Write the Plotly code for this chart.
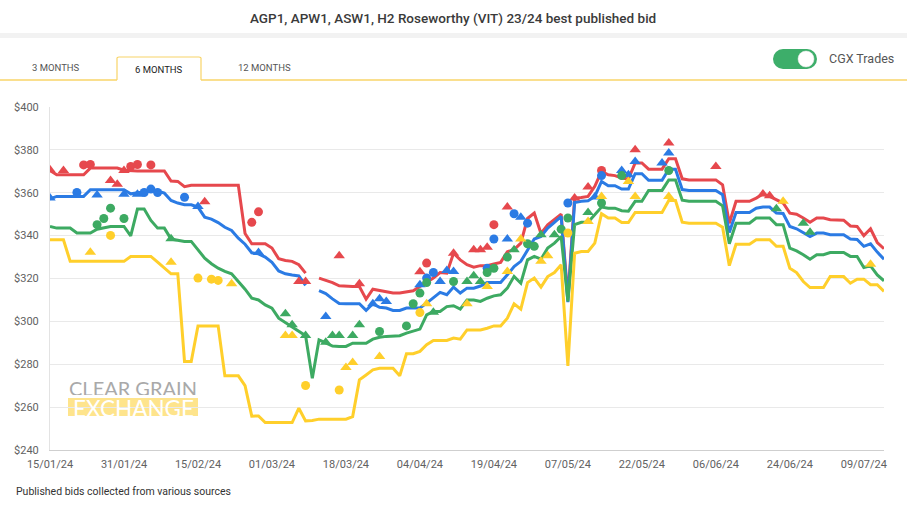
import pandas as pd
import plotly.graph_objects as go

# ---------------- data ----------------
HOLIDAYS = ["2024-01-26", "2024-03-29", "2024-04-01", "2024-04-25", "2024-06-10"]
trading_days = pd.bdate_range("2024-01-15", "2024-07-12", freq="C", holidays=HOLIDAYS)
DATES = [d.strftime("%d/%m/%y") for d in trading_days]
TICK_DATES = DATES[::11]
Y_TICKS = [240, 260, 280, 300, 320, 340, 360, 380, 400]

H2 = [370.4, 368.4, 368.4, 368.4, 368.4, 368.4, 371.5, 371.5, 371.5, 371.5,
      371.5, 370.5, 370.2, 370.2, 370.2, 370.2, 370.2, 370.2, 365.5, 365.3,
      362.8, 363.5, 363.5, 363.5, 363.5, 363.5, 363.5, 363.5, 363.5, 341.0,
      336.2, 336.2, 336.2, 334.2, 329.2, 328.4, 328.0, 326.4, 322.5, None,
      320.2, 319.2, 318.1, 316.6, 316.3, 316.3, 316.3, 310.4, 315.0, 314.4,
      314.1, 313.2, 313.2, 313.9, 314.3, 316.3, 318.1, 320.2, 322.8, 322.5,
      331.8, 328.7, 326.4, 325.3, 326.0, 326.0, 326.8, 327.5, 332.5, 333.5,
      336.5, 348.0, 350.5, 341.0, 345.0, 347.5, 350.0, 311.0, 357.5, 357.8,
      358.3, 363.0, 370.0, 368.4, 368.0, 366.9, 366.4, 373.9, 373.9, 371.0,
      371.0, 371.0, 375.9, 375.9, 366.5, 366.0, 366.0, 366.0, 366.0, 366.0,
      363.7, 345.8, 356.0, 356.0, 356.0, 357.5, 359.4, 358.3, 356.7, 355.2,
      350.5, 350.0, 348.2, 346.2, 348.2, 348.2, 347.4, 347.2, 347.2, 344.5,
      344.3, 340.0, 343.2, 336.8, 333.9]

APW1 = [357.2, 358.3, 358.3, 358.3, 358.3, 358.3, 361.4, 361.4, 361.4, 361.4,
        361.4, 361.4, 359.5, 360.0, 360.5, 360.8, 360.8, 359.8, 356.4, 355.2,
        354.4, 354.4, 353.3, 348.6, 347.7, 346.1, 343.9, 342.4, 338.8, 336.0,
        332.0, 331.5, 330.0, 327.5, 323.5, 322.2, 321.6, 321.2, 316.8, None,
        314.3, 313.0, 310.5, 308.3, 308.2, 308.2, 308.2, 305.1, 308.2, 306.6,
        306.2, 305.1, 305.1, 306.2, 306.2, 306.2, 308.5, 310.8, 313.5, 312.4,
        316.0, 313.2, 315.5, 315.5, 316.5, 318.1, 318.1, 318.1, 321.7, 325.6,
        328.0, 333.4, 338.4, 339.6, 343.5, 346.2, 349.0, 309.0, 355.5, 356.0,
        356.3, 358.3, 365.3, 363.3, 363.3, 361.7, 361.7, 368.9, 368.9, 365.8,
        365.8, 365.8, 371.0, 371.0, 361.5, 361.1, 361.1, 361.1, 361.1, 361.1,
        359.1, 341.5, 350.8, 350.8, 350.8, 352.8, 353.3, 353.3, 350.5, 350.3,
        344.3, 343.2, 341.5, 339.6, 341.2, 341.2, 340.4, 340.4, 340.4, 338.4,
        338.2, 335.0, 336.2, 332.3, 329.0]

ASW1 = [344.3, 343.5, 343.5, 343.5, 341.2, 341.2, 341.2, 343.0, 343.5, 344.3,
        344.3, 344.3, 339.9, 352.4, 352.4, 347.1, 343.5, 343.5, 338.4, 337.8,
        337.3, 337.3, 333.4, 329.5, 326.9, 324.8, 323.3, 322.2, 318.6, 315.0,
        310.8, 310.0, 307.7, 306.2, 301.5, 299.5, 297.6, 295.5, 293.3, 273.5,
        291.4, 290.0, 288.5, 288.3, 288.3, 289.8, 289.8, 289.8, 291.7, 292.6,
        293.0, 293.3, 293.3, 294.5, 295.3, 296.4, 303.0, 304.6, 304.6, 306.9,
        307.3, 305.7, 310.0, 310.0, 309.3, 310.8, 311.9, 312.4, 315.5, 321.0,
        317.8, 328.7, 330.3, 329.0, 334.2, 336.5, 339.6, 309.3, 345.1, 346.2,
        346.2, 349.7, 353.3, 352.8, 352.8, 351.6, 351.4, 356.0, 356.0, 361.1,
        361.1, 361.1, 366.0, 366.0, 356.5, 356.0, 356.0, 356.0, 356.0, 356.0,
        353.9, 336.2, 345.8, 345.8, 345.8, 348.2, 348.2, 348.2, 345.1, 345.1,
        334.2, 332.9, 331.1, 329.0, 331.1, 331.1, 332.1, 332.1, 332.1, 330.3,
        330.3, 325.1, 325.9, 321.7, 318.9]

AGP1 = [338.1, 338.1, 338.1, 328.0, 328.0, 328.0, 328.0, 328.0, 328.0, 328.0,
        328.0, 328.0, 330.3, 330.3, 330.3, 330.3, 327.6, 324.8, 322.2, 322.2,
        281.3, 281.3, 297.9, 297.9, 297.9, 297.9, 274.6, 274.6, 274.6, 270.0,
        255.8, 255.9, 252.8, 252.8, 252.8, 252.8, 252.8, 259.5, 253.6, 253.8,
        254.4, 254.4, 254.4, 254.4, 254.4, 255.6, 272.7, 275.0, 277.4, 278.1,
        278.1, 278.1, 274.6, 284.9, 284.9, 286.0, 289.1, 291.1, 291.1, 291.1,
        292.2, 291.7, 296.0, 296.0, 296.0, 296.8, 297.9, 297.9, 301.5, 308.2,
        305.7, 318.1, 320.2, 316.0, 320.9, 322.8, 326.4, 279.2, 331.8, 332.6,
        332.6, 336.5, 350.2, 348.2, 348.2, 346.1, 346.1, 350.8, 350.8, 350.8,
        350.8, 350.8, 356.4, 356.4, 346.3, 345.8, 345.8, 345.8, 345.8, 345.8,
        343.9, 326.0, 336.0, 336.0, 336.0, 338.1, 338.1, 338.1, 335.0, 335.0,
        324.8, 322.8, 318.6, 315.8, 315.8, 315.8, 320.9, 320.9, 320.9, 317.8,
        319.7, 319.7, 317.1, 317.1, 314.0]

# CGX trades: trading-day index and price
H2_CIRCLE_DAY = [5, 6, 12, 13, 15, 30, 31, 56, 66, 82]
H2_CIRCLE_VAL = [373.0, 373.2, 372.3, 373.2, 373.0, 346.2, 351.1, 327.2, 345.1, 370.4]
H2_TRI_DAY = [0, 2, 9, 10, 11, 23, 37, 38, 43, 46, 55, 60, 63, 64, 65, 68, 78, 80, 87, 92, 99, 106, 107]
H2_TRI_VAL = [370.7, 370.4, 365.7, 364.0, 370.4, 355.8, 318.6, 318.6, 330.6, 317.5, 323.1, 331.8,
              333.4, 333.4, 334.6, 353.3, 357.5, 362.7, 380.1, 383.2, 372.3, 359.4, 358.6]

APW1_CIRCLE_DAY = [4, 14, 15, 16, 20, 56, 57, 65, 66, 69, 71, 77, 82]
APW1_CIRCLE_VAL = [360.1, 360.1, 361.7, 360.1, 357.9, 320.2, 322.8, 324.8, 338.4, 350.2, 345.8, 355.2, 368.0]
APW1_TRI_DAY = [0, 7, 11, 13, 22, 31, 41, 48, 49, 50, 55, 58, 59, 60, 68, 70, 81, 85, 86, 87, 91, 92]
APW1_TRI_VAL = [357.5, 359.0, 359.3, 359.3, 353.6, 332.1, 302.3, 308.2, 310.5, 309.3, 317.1, 318.6,
                323.7, 323.3, 338.4, 348.6, 358.0, 370.4, 368.4, 374.6, 373.9, 378.5]

ASW1_CIRCLE_DAY = [7, 8, 9, 11, 49, 53, 54, 55, 56, 60, 65, 66, 68, 71, 72, 76, 77, 82, 85, 92]
ASW1_CIRCLE_VAL = [345.1, 348.0, 352.8, 348.0, 295.3, 297.9, 308.2, 313.2, 318.1, 318.6, 322.8, 324.8,
                   330.0, 336.2, 335.0, 343.0, 348.2, 355.2, 368.0, 370.4]
ASW1_TRI_DAY = [18, 35, 36, 38, 41, 42, 43, 45, 46, 57, 62, 63, 64, 69, 73, 75, 80, 108, 112, 113]
ASW1_TRI_VAL = [338.5, 303.5, 298.4, 293.4, 290.3, 293.4, 293.4, 293.4, 298.4, 304.3, 318.6, 321.3,
                318.6, 333.4, 340.4, 340.4, 350.8, 352.5, 345.8, 341.6]

AGP1_CIRCLE_DAY = [9, 22, 24, 25, 38, 43, 55, 77]
AGP1_CIRCLE_VAL = [340.1, 320.2, 319.7, 319.1, 270.1, 268.0, 304.1, 341.2]
AGP1_TRI_DAY = [6, 18, 27, 35, 36, 44, 45, 49, 56, 62, 65, 68, 70, 73, 74, 80, 82, 86, 87, 92, 109, 122]
AGP1_TRI_VAL = [332.3, 327.6, 317.5, 293.4, 293.4, 278.5, 280.8, 283.6, 308.2, 308.2, 316.3, 323.3,
                338.4, 328.0, 330.6, 346.6, 358.3, 365.3, 358.3, 358.3, 356.0, 326.7]

COLORS = {"H2": "#E6484D", "APW1": "#2B7BE4", "ASW1": "#3DAA62", "AGP1": "#FFCF2B"}

# ---------------- geometry helpers (pixel -> paper) ----------------
W, H = 907, 505
L, R, T, B = 50, 23, 107, 55
PW, PH = W - L - R, H - T - B


def px(x):
    return (x - L) / PW


def py(y):
    return (H - B - y) / PH


fig = go.Figure()

lines = [("H2", H2), ("APW1", APW1), ("ASW1", ASW1), ("AGP1", AGP1)]
for name, vals in lines:
    fig.add_trace(go.Scatter(x=DATES, y=vals, mode="lines", name=name,
                             line=dict(color=COLORS[name], width=3),
                             connectgaps=False, hoverinfo="skip"))

trades = [
    ("H2", H2_CIRCLE_DAY, H2_CIRCLE_VAL, H2_TRI_DAY, H2_TRI_VAL),
    ("APW1", APW1_CIRCLE_DAY, APW1_CIRCLE_VAL, APW1_TRI_DAY, APW1_TRI_VAL),
    ("ASW1", ASW1_CIRCLE_DAY, ASW1_CIRCLE_VAL, ASW1_TRI_DAY, ASW1_TRI_VAL),
    ("AGP1", AGP1_CIRCLE_DAY, AGP1_CIRCLE_VAL, AGP1_TRI_DAY, AGP1_TRI_VAL),
]
for name, cd, cv, td, tv in trades:
    fig.add_trace(go.Scatter(x=[DATES[i] for i in cd], y=cv, mode="markers",
                             marker=dict(symbol="circle", size=9, color=COLORS[name]),
                             hoverinfo="skip"))
    fig.add_trace(go.Scatter(x=[DATES[i] for i in td], y=tv, mode="markers",
                             marker=dict(symbol="triangle-up", size=10, color=COLORS[name]),
                             hoverinfo="skip"))

FONT = "Roboto, Arial, sans-serif"
YEL = "#F8D468"

shapes = [
    # light band under title
    dict(type="rect", xref="paper", yref="paper", x0=px(0), x1=px(W), y0=py(38), y1=py(33),
         fillcolor="#F2F2F2", line=dict(width=0), layer="below"),
    # yellow tab rule
    dict(type="line", xref="paper", yref="paper", x0=px(0), x1=px(117), y0=py(80), y1=py(80),
         line=dict(color=YEL, width=1.5)),
    dict(type="line", xref="paper", yref="paper", x0=px(201), x1=px(W), y0=py(80), y1=py(80),
         line=dict(color=YEL, width=1.5)),
    dict(type="path", xref="paper", yref="paper",
         path=f"M{px(117)},{py(80)} L{px(117)},{py(58)} Q{px(117)},{py(57)} {px(119)},{py(57)} "
              f"L{px(199)},{py(57)} Q{px(201)},{py(57)} {px(201)},{py(58)} L{px(201)},{py(80)}",
         line=dict(color=YEL, width=1.2)),
    # toggle
    dict(type="circle", xref="paper", yref="paper", x0=px(773), x1=px(793), y0=py(69), y1=py(49),
         fillcolor="#3DAE6A", line=dict(width=0)),
    dict(type="circle", xref="paper", yref="paper", x0=px(797), x1=px(817), y0=py(69), y1=py(49),
         fillcolor="#3DAE6A", line=dict(width=0)),
    dict(type="rect", xref="paper", yref="paper", x0=px(783), x1=px(807), y0=py(69), y1=py(49),
         fillcolor="#3DAE6A", line=dict(width=0)),
    dict(type="circle", xref="paper", yref="paper", x0=px(798), x1=px(814), y0=py(67), y1=py(51),
         fillcolor="#FFFFFF", line=dict(color="#E8E8E8", width=0.5)),
    # watermark yellow band
    dict(type="rect", xref="paper", yref="paper", x0=px(68), x1=px(198), y0=py(416), y1=py(398),
         fillcolor="#FEE48C", line=dict(width=0), layer="below"),
]

annotations = [
    dict(text="AGP1, APW1, ASW1, H2 Roseworthy (VIT) 23/24 best published bid",
         xref="paper", yref="paper", x=px(453), y=py(18), xanchor="center", yanchor="middle",
         showarrow=False, font=dict(family=FONT, size=13.5, color="#3A3A3A", weight=500)),
    dict(text="3 MONTHS", xref="paper", yref="paper", x=px(56), y=py(68), xanchor="center",
         yanchor="middle", showarrow=False, font=dict(family=FONT, size=9.5, color="#555555")),
    dict(text="6 MONTHS", xref="paper", yref="paper", x=px(159), y=py(69), xanchor="center",
         yanchor="middle", showarrow=False, font=dict(family=FONT, size=9.5, color="#222222")),
    dict(text="12 MONTHS", xref="paper", yref="paper", x=px(264), y=py(68), xanchor="center",
         yanchor="middle", showarrow=False, font=dict(family=FONT, size=9.5, color="#555555")),
    dict(text="CGX Trades", xref="paper", yref="paper", x=px(827), y=py(58), xanchor="left",
         yanchor="middle", showarrow=False, font=dict(family=FONT, size=12.5, color="#555555")),
    dict(text="Published bids collected from various sources", xref="paper", yref="paper",
         x=px(14), y=py(492), xanchor="left", yanchor="middle", showarrow=False,
         font=dict(family=FONT, size=10.5, color="#333333")),
    # watermark
    dict(text="CLEAR GRAIN", xref="paper", yref="paper", x=px(133), y=py(387), xanchor="center",
         yanchor="middle", showarrow=False, height=15,
         font=dict(family="Lato, Open Sans, sans-serif", size=20, color="#A9A9A9")),
    dict(text="EXCHANGE", xref="paper", yref="paper", x=px(133), y=py(408), xanchor="center",
         yanchor="middle", showarrow=False, height=16,
         font=dict(family="Lato, Open Sans, sans-serif", size=22.5, color="#FFFFFF")),
]

fig.update_layout(
    width=W, height=H,
    margin=dict(l=L, r=R, t=T, b=B),
    paper_bgcolor="white", plot_bgcolor="white",
    showlegend=False,
    font=dict(family=FONT, size=11, color="#616161"),
    shapes=shapes, annotations=annotations,
    xaxis=dict(type="category", categoryorder="array", categoryarray=DATES,
               range=[0, len(DATES) - 1], tickmode="array", tickvals=TICK_DATES,
               ticktext=TICK_DATES, showgrid=False, showline=True, linecolor="#CFCFCF",
               linewidth=1, ticks="", tickfont=dict(size=11, color="#616161"),
               ticklabelstandoff=4, zeroline=False, fixedrange=True),
    yaxis=dict(range=[240, 400], tickmode="array", tickvals=Y_TICKS,
               ticktext=[f"${v}" for v in Y_TICKS], showgrid=True, gridcolor="#E9E9E9",
               gridwidth=1, showline=True, linecolor="#E3E3E3", ticks="",
               tickfont=dict(size=11, color="#616161"), ticklabelstandoff=8,
               zeroline=False, fixedrange=True),
)

fig.write_html("out.html", config={"displayModeBar": False},
               post_script="document.body.style.margin='0';document.body.style.overflow='hidden';")
